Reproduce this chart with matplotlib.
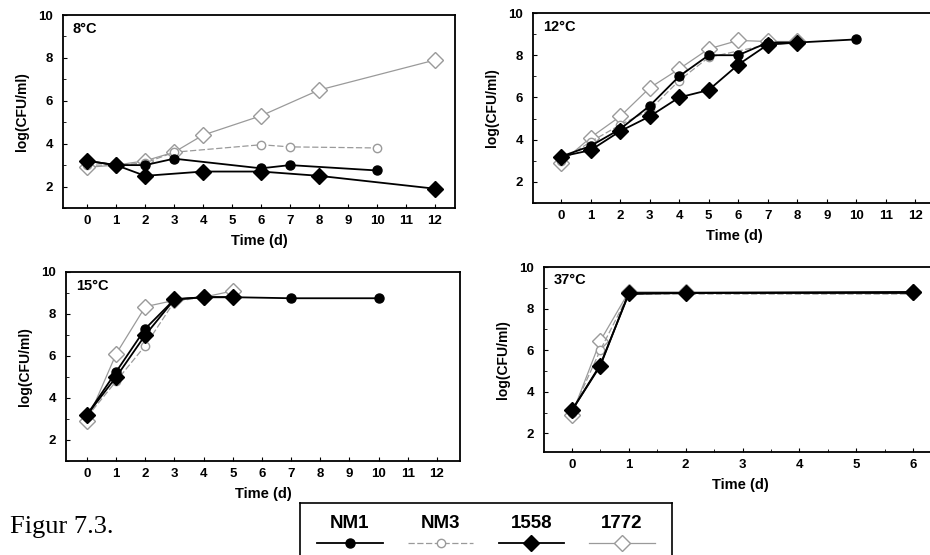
import numpy as np
import matplotlib
matplotlib.use("Agg")
import matplotlib.pyplot as plt
from matplotlib.ticker import MultipleLocator

plt.rcParams["font.family"] = ["Liberation Sans", "DejaVu Sans"]
plt.rcParams["font.weight"] = "bold"

strains = ["NM1", "NM3", "1558", "1772"]

# 8 degC
t8_nm1 = [0, 1, 2, 3, 6, 7, 10]
y8_nm1 = [3.2, 3.0, 3.0, 3.3, 2.85, 3.0, 2.75]
t8_nm3 = [0, 1, 2, 3, 6, 7, 10]
y8_nm3 = [3.0, 3.0, 3.1, 3.6, 3.95, 3.85, 3.8]
t8_1558 = [0, 1, 2, 4, 6, 8, 12]
y8_1558 = [3.2, 3.0, 2.5, 2.7, 2.7, 2.5, 1.9]
t8_1772 = [0, 1, 2, 3, 4, 6, 8, 12]
y8_1772 = [2.9, 3.0, 3.2, 3.6, 4.4, 5.3, 6.5, 7.9]

# 12 degC
t12_nm1 = [0, 1, 2, 3, 4, 5, 6, 7, 8, 10]
y12_nm1 = [3.2, 3.7, 4.5, 5.6, 7.0, 8.0, 8.0, 8.6, 8.6, 8.75]
t12_nm3 = [0, 1, 2, 3, 4, 5, 7, 8]
y12_nm3 = [3.0, 3.9, 4.7, 5.4, 6.8, 7.9, 8.5, 8.6]
t12_1558 = [0, 1, 2, 3, 4, 5, 6, 7, 8]
y12_1558 = [3.2, 3.5, 4.4, 5.1, 6.0, 6.35, 7.55, 8.5, 8.6]
t12_1772 = [0, 1, 2, 3, 4, 5, 6, 7, 8]
y12_1772 = [2.9, 4.1, 5.1, 6.45, 7.35, 8.3, 8.7, 8.65, 8.65]

# 15 degC
t15_nm1 = [0, 1, 2, 3, 4, 5, 7, 10]
y15_nm1 = [3.2, 5.25, 7.3, 8.7, 8.8, 8.8, 8.75, 8.75]
t15_nm3 = [0, 1, 2, 3, 4, 5]
y15_nm3 = [3.1, 4.8, 6.5, 8.6, 8.8, 8.8]
t15_1558 = [0, 1, 2, 3, 4, 5]
y15_1558 = [3.2, 5.0, 7.0, 8.7, 8.8, 8.8]
t15_1772 = [0, 1, 2, 3, 4, 5]
y15_1772 = [2.9, 6.1, 8.35, 8.65, 8.8, 9.1]

# 37 degC
t37 = [0, 0.5, 1, 2, 6]
y37_nm1 = [3.1, 5.3, 8.7, 8.75, 8.75]
y37_nm3 = [3.0, 6.0, 8.7, 8.7, 8.7]
y37_1558 = [3.1, 5.25, 8.75, 8.75, 8.8]
y37_1772 = [2.9, 6.45, 8.8, 8.8, 8.8]

gray = "#9a9a9a"
styles = {
    "NM1": dict(color="black", lw=1.3, marker="o", ms=6.5, mfc="black", mec="black", zorder=4),
    "NM3": dict(color=gray, lw=0.9, ls=(0, (5, 2)), marker="o", ms=6,
                mfc="white", mec=gray, zorder=2),
    "1558": dict(color="black", lw=1.3, marker="D", ms=8, mfc="black", mec="black", zorder=3),
    "1772": dict(color=gray, lw=0.9, marker="D", ms=8, mfc="white", mec=gray, zorder=1),
}

W, H = 930, 555
fig = plt.figure(figsize=(W / 100, H / 100), dpi=100)


def make_ax(left, right, top, bottom):
    return fig.add_axes([left / W, 1 - bottom / H, (right - left) / W, (bottom - top) / H])


panels = [
    (make_ax(63, 455, 15, 208), "8°C", (-0.83, 12.69), (1, 10), range(13),
     [(t8_nm1, y8_nm1), (t8_nm3, y8_nm3), (t8_1558, y8_1558), (t8_1772, y8_1772)]),
    (make_ax(533, 936, 13, 203), "12°C", (-0.95, 12.7), (1, 10), range(13),
     [(t12_nm1, y12_nm1), (t12_nm3, y12_nm3), (t12_1558, y12_1558), (t12_1772, y12_1772)]),
    (make_ax(66, 460, 272, 461), "15°C", (-0.72, 12.79), (1, 10), range(13),
     [(t15_nm1, y15_nm1), (t15_nm3, y15_nm3), (t15_1558, y15_1558), (t15_1772, y15_1772)]),
    (make_ax(544, 936, 267, 452), "37°C", (-0.49, 6.4), (1.1, 10), range(7),
     [(t37, y37_nm1), (t37, y37_nm3), (t37, y37_1558), (t37, y37_1772)]),
]

for ax, title, xlim, ylim, xt, series in panels:
    for name, (t, y) in zip(strains, series):
        ax.plot(t, y, **styles[name])
    ax.set_xlim(*xlim)
    ax.set_ylim(*ylim)
    ax.set_xticks(list(xt))
    ax.set_yticks([2, 4, 6, 8, 10])
    if title == "37°C":
        ax.xaxis.set_minor_locator(MultipleLocator(0.5))
    ax.yaxis.set_minor_locator(MultipleLocator(1))
    ax.tick_params(direction="in", length=3, width=0.8, labelsize=9.5, pad=5)
    ax.tick_params(axis="y", pad=7)
    ax.tick_params(which="minor", direction="in", length=2, width=0.6)
    for s in ax.spines.values():
        s.set_linewidth(1.3)
    ax.set_xlabel("Time (d)", fontsize=10.5, fontweight="bold", labelpad=5)
    ax.set_ylabel("log(CFU/ml)", fontsize=10, fontweight="bold", labelpad=7)
    ax.text(0.025, 0.965, title, transform=ax.transAxes, ha="left", va="top",
            fontsize=10.5, fontweight="bold")

fig.text(10 / W, 1 - 527 / H, "Figur 7.3.", family="Liberation Serif",
         fontweight="normal", fontsize=19, va="center", ha="left")

# legend box
lax = make_ax(300, 672, 503, 570)
lax.set_xlim(-0.55, 3.55)
lax.set_ylim(0, 1)
lax.set_xticks([])
lax.set_yticks([])
for s in lax.spines.values():
    s.set_linewidth(1.2)
for i, name in enumerate(strains):
    st = dict(styles[name])
    st["markevery"] = [1]
    lax.plot([i - 0.36, i, i + 0.36], [0.4, 0.4, 0.4], **st)
    lax.text(i, 0.7, name, ha="center", va="center", fontsize=13.5, fontweight="bold")

fig.savefig("out.png", dpi=100)
